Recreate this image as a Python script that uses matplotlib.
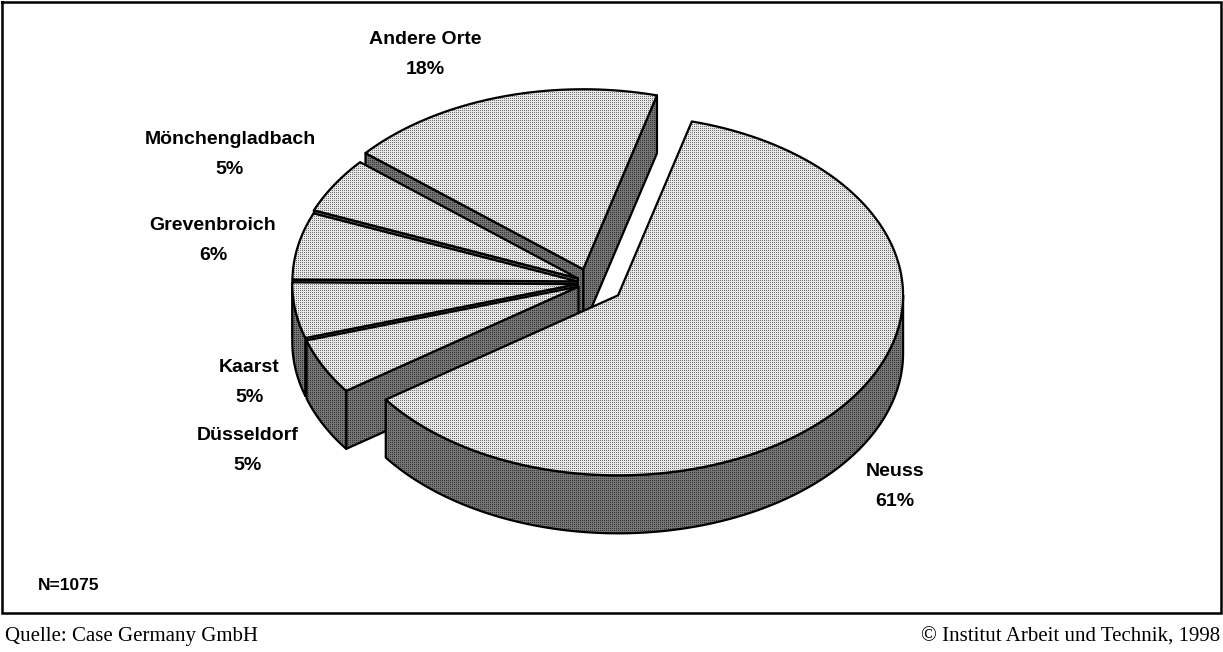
import numpy as np
import matplotlib.pyplot as plt
from matplotlib.patches import Polygon

# data
labels = ["Andere Orte", "Mönchengladbach", "Grevenbroich", "Kaarst", "Düsseldorf", "Neuss"]
shares = [18, 5, 6, 5, 5, 61]
explode = [0.08, 0.05, 0.045, 0.045, 0.045, 0.12]
n_total = 1075

# label positions (pixels) for each slice
label_x = [425, 230, 213, 249, 248, 895]
label_y = [40, 140, 225, 367, 435, 472]

W, H = 1223, 652
cx, cy, rx, ry, depth = 590, 283, 285, 180, 58
start = 75.0

fig = plt.figure(figsize=(W / 100, H / 100), dpi=100)
ax = fig.add_axes([0, 0, 1, 1])
ax.set_xlim(0, W)
ax.set_ylim(H, 0)
ax.axis("off")

# dotted textures like the old excel fill
yy, xx = np.mgrid[0:H, 0:W]
dots = (xx % 2 == 0) & (yy % 2 == 0)
tex_top = np.where(dots, 0.45, 0.9)
tex_side = np.where(dots, 0.2, 0.46)


def rim(c, a):
    t = np.radians(a)
    return np.array([c[0] + rx * np.cos(t), c[1] - ry * np.sin(t)])


def shade(poly, tex, z):
    p = Polygon(poly, closed=True, facecolor="none", edgecolor="none")
    ax.add_patch(p)
    im = ax.imshow(tex, cmap="gray", vmin=0, vmax=1, extent=(0, W, H, 0),
                   interpolation="nearest", zorder=z)
    im.set_clip_path(p)
    ax.add_patch(Polygon(poly, closed=True, fill=False, edgecolor="black",
                         lw=1.6, joinstyle="round", zorder=z + 0.5))


sides = []
tops = []
a = start
for share, e in zip(shares, explode):
    a1, a2 = a, a + share * 3.6
    a = a2
    mid = np.radians((a1 + a2) / 2)
    c = np.array([cx + e * rx * np.cos(mid), cy - e * ry * np.sin(mid)])
    dn = np.array([0, depth])
    arc = [rim(c, t) for t in np.linspace(a1, a2, 120)]
    tops.append([c] + arc)
    # radial faces that look to the front
    if np.cos(np.radians(a1)) > 0:
        r = rim(c, a1)
        sides.append([c, r, r + dn, c + dn])
    if np.cos(np.radians(a2)) < 0:
        r = rim(c, a2)
        sides.append([c, r, r + dn, c + dn])
    # outer wall, front half only
    for lo, hi in [(180, 360), (540, 720)]:
        b1, b2 = max(a1, lo), min(a2, hi)
        if b2 > b1:
            ts = np.linspace(b1, b2, 120)
            upper = [rim(c, t) for t in ts]
            lower = [p + dn for p in upper[::-1]]
            sides.append(upper + lower)

sides.sort(key=lambda s: np.mean([p[1] for p in s]))
z = 1
for s in sides:
    shade(np.array(s), tex_side, z)
    z += 1
for t in tops:
    shade(np.array(t), tex_top, z)
    z += 1

for lab, share, x, y in zip(labels, shares, label_x, label_y):
    ax.text(x, y, lab, ha="center", va="center", fontsize=14, fontweight="bold",
            family="Liberation Sans", zorder=100)
    ax.text(x, y + 30, f"{share}%", ha="center", va="center", fontsize=14,
            fontweight="bold", family="Liberation Sans", zorder=100)

ax.text(38, 585, f"N={n_total}", ha="left", va="center", fontsize=12.5,
        fontweight="bold", family="Liberation Sans")

# frame and footer
ax.plot([2, W - 2, W - 2, 2, 2], [2, 2, 613, 613, 2], color="black", lw=1.8,
        zorder=200, solid_joinstyle="miter")
ax.text(5, 637, "Quelle: Case Germany GmbH", ha="left", va="center",
        fontsize=15, family="Liberation Serif")
ax.text(W - 3, 637, "© Institut Arbeit und Technik, 1998", ha="right", va="center",
        fontsize=15, family="Liberation Serif")

fig.savefig("out.png", dpi=100)
